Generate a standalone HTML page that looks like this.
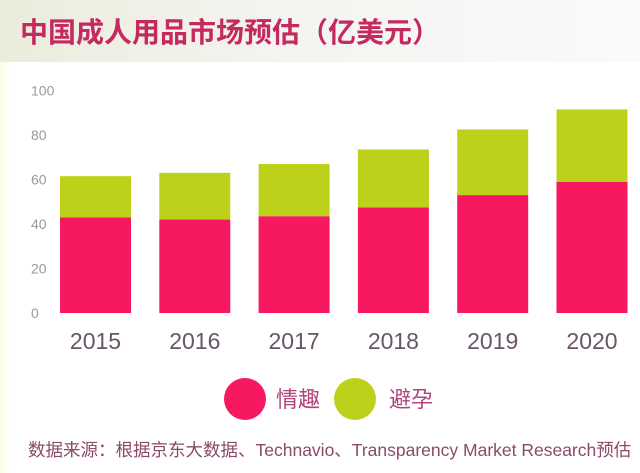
<!DOCTYPE html>
<html><head><meta charset="utf-8"><style>
body{margin:0;width:640px;height:473px;overflow:hidden;background:#fff;font-family:"Liberation Sans","Noto Sans CJK SC",sans-serif;}
#wrap{position:relative;width:640px;height:473px;background:linear-gradient(90deg,#fbfbe6 0,#fff 10px);}
#hdr{position:absolute;left:0;top:0;width:640px;height:62px;background:linear-gradient(90deg,#ececdc 0,#f3f3ef 40%,#fafafa 100%);}
#title{position:absolute;left:20px;top:11px;font-size:28px;font-weight:bold;color:#c42a5f;white-space:nowrap;}
#foot{position:absolute;left:28px;top:437px;font-size:17.5px;color:#8a4a6a;white-space:nowrap;}
</style></head><body>
<div id="wrap">
<div id="hdr"></div>
<div id="title">中国成人用品市场预估（亿美元）</div>
<svg id="chart" width="640" height="473" style="position:absolute;left:0;top:0"></svg>
<div id="foot">数据来源：根据京东大数据、Technavio、Transparency Market Research预估</div>
</div>
<script>
const categories=["2015","2016","2017","2018","2019","2020"];
const qingqu=[43,42,43.5,47.5,53,59];
const biyun=[18.5,21,23.5,26,29.5,32.5];
const yTicks=[0,20,40,60,80,100];
const legendLabels=["情趣","避孕"];
const colors=["#f7195f","#bdd11b"];
const NS="http://www.w3.org/2000/svg";
const svg=document.getElementById("chart");
const y0=313,k=2.225;
function y(v){return y0-v*k;}
function x(i){return 60+i*99.3;}
const bw=71;
function el(t,a){const e=document.createElementNS(NS,t);for(const n in a)e.setAttribute(n,a[n]);svg.appendChild(e);return e;}
yTicks.forEach(t=>{const e=el("text",{x:31,y:y(t)+5,"font-size":"14",fill:"#9a9a9a"});e.textContent=t;

});
categories.forEach((c,i)=>{
 const r1=el("rect",{x:x(i),y:y(qingqu[i]),width:bw,height:qingqu[i]*k,fill:colors[0]});
 
 
 const r2=el("rect",{x:x(i),y:y(qingqu[i]+biyun[i]),width:bw,height:biyun[i]*k,fill:colors[1]});
 
 
 const t=el("text",{x:x(i)+bw/2,y:349,"font-size":"23","text-anchor":"middle",fill:"#6a5468"});t.textContent=c;
 
 
});
[[245,276],[355,389]].forEach((p,i)=>{
 const c=el("circle",{cx:p[0],cy:399,r:21,fill:colors[i]});
 
 
 const t=el("text",{x:p[1],y:407,"font-size":"22",fill:"#b0457a"});t.textContent=legendLabels[i];
 
 
});
</script>
</body></html>
